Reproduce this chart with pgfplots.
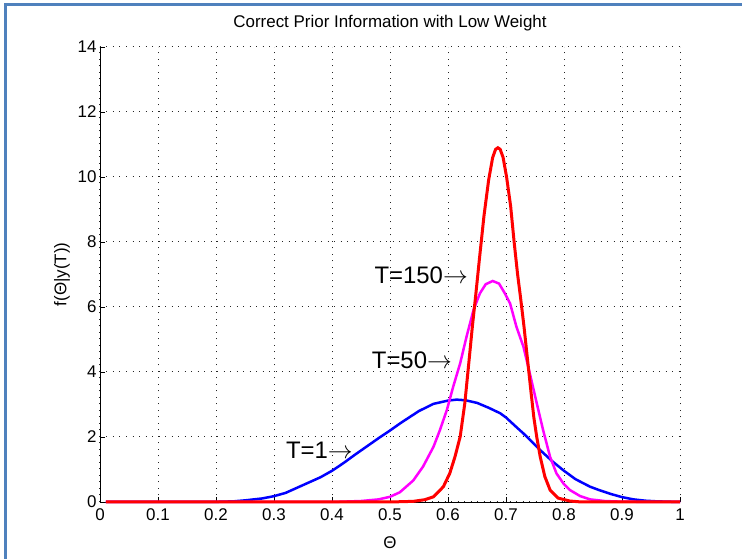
\documentclass[border=0pt]{standalone}
\usepackage{pgfplots}
\pgfplotsset{compat=1.18}
\usepackage{fontspec}
\setmainfont{Liberation Sans}
\definecolor{frameblue}{RGB}{79,129,189}
\definecolor{mymag}{RGB}{255,0,255}
\definecolor{myblue}{RGB}{0,0,255}
\definecolor{myred}{RGB}{255,0,0}
\begin{document}
\begin{tikzpicture}[x=1bp,y=1bp]
\path[use as bounding box] (-100,-57) rectangle (642,502);
\draw[frameblue, line width=2.5bp] (-94.5,-57) -- (-94.5,497.5) -- (642,497.5);
\begin{axis}[
  at={(0,0)}, anchor=south west,
  scale only axis, width=580bp, height=455bp,
  xmin=0, xmax=1, ymin=0, ymax=14,
  axis x line*=bottom, axis y line*=left,
  xtick={0,0.1,0.2,0.3,0.4,0.5,0.6,0.7,0.8,0.9,1},
  ytick={0,2,4,6,8,10,12,14},
  /pgf/number format/assume math mode=true,
  tick align=inside, major tick length=5bp,
  grid=major,
  major grid style={black!85, line width=1bp, dash pattern=on 1bp off 5.5bp},
  tick style={black, line width=0.8bp},
  axis line style={black, line width=0.8bp, -},
  ticklabel style={font=\fontsize{17}{20}\selectfont},
  xticklabel style={yshift=-3bp},
  yticklabel style={xshift=0bp},
  title={Correct Prior Information with Low Weight},
  title style={font=\fontsize{17}{20}\selectfont, at={(axis description cs:0.5,1)}, anchor=base, yshift=14bp},
  xlabel={Θ},
  xlabel style={font=\fontsize{17}{20}\selectfont, at={(axis description cs:0.5,-0.0901)}, anchor=center},
  ylabel={f(Θ|y(T))},
  ylabel style={font=\fontsize{17}{20}\selectfont, at={(axis description cs:-0.0655,0.5)}, anchor=center, rotate=0},
  clip=false,
]
\addplot[myblue, line width=2.5bp] coordinates {
(0.01,0) (0.10,0) (0.20,0.005) (0.23,0.02) (0.25,0.05) (0.28,0.11) (0.30,0.18)
(0.32,0.28) (0.35,0.52) (0.38,0.76) (0.40,0.96) (0.42,1.20) (0.44,1.46) (0.46,1.71)
(0.48,1.96) (0.50,2.20) (0.52,2.45) (0.55,2.80) (0.575,3.02) (0.60,3.12) (0.615,3.15)
(0.63,3.13) (0.65,3.05) (0.67,2.90) (0.69,2.73) (0.70,2.60) (0.72,2.27) (0.73,2.11)
(0.75,1.76) (0.76,1.58) (0.78,1.25) (0.80,0.96) (0.82,0.70) (0.845,0.47) (0.86,0.37)
(0.88,0.25) (0.90,0.15) (0.92,0.08) (0.94,0.04) (0.96,0.02) (1.0,0.0)
};
\addplot[mymag, line width=2.5bp] coordinates {
(0.01,0) (0.40,0.0) (0.45,0.03) (0.48,0.08) (0.50,0.16) (0.517,0.30) (0.54,0.66)
(0.557,1.09) (0.575,1.70) (0.586,2.21) (0.598,2.83) (0.609,3.55) (0.621,4.27)
(0.632,5.09) (0.644,5.91) (0.655,6.42) (0.665,6.70) (0.677,6.80) (0.688,6.72)
(0.698,6.42) (0.707,6.11) (0.718,5.39) (0.730,4.78) (0.741,3.96) (0.753,3.04)
(0.764,2.21) (0.776,1.39) (0.787,0.88) (0.799,0.57) (0.810,0.37) (0.828,0.18)
(0.845,0.08) (0.87,0.03) (0.90,0.01) (1.0,0)
};
\addplot[myred, line width=3bp] coordinates {
(0.01,0) (0.50,0) (0.54,0.02) (0.56,0.07) (0.575,0.16) (0.592,0.47) (0.603,0.88)
(0.612,1.39) (0.621,2.01) (0.629,3.04) (0.636,4.3) (0.642,5.4) (0.648,6.4)
(0.654,7.45) (0.662,8.8) (0.670,9.9) (0.677,10.6) (0.682,10.85) (0.686,10.9)
(0.690,10.85) (0.695,10.6) (0.701,10.0) (0.708,9.1) (0.714,8.0) (0.720,7.0)
(0.725,6.3) (0.731,5.4) (0.737,4.4) (0.743,3.4) (0.748,2.6) (0.753,2.0)
(0.759,1.39) (0.767,0.78) (0.776,0.37) (0.79,0.12) (0.81,0.03) (0.83,0) (1,0)
};
\node[anchor=east, inner sep=0pt, font=\fontsize{24}{28}\selectfont] at (axis cs:0.6345,6.98) {T=150$\rightarrow$};
\node[anchor=east, inner sep=0pt, font=\fontsize{24}{28}\selectfont] at (axis cs:0.607,4.37) {T=50$\rightarrow$};
\node[anchor=east, inner sep=0pt, font=\fontsize{24}{28}\selectfont] at (axis cs:0.436,1.58) {T=1$\rightarrow$};
\end{axis}
\end{tikzpicture}
\end{document}
